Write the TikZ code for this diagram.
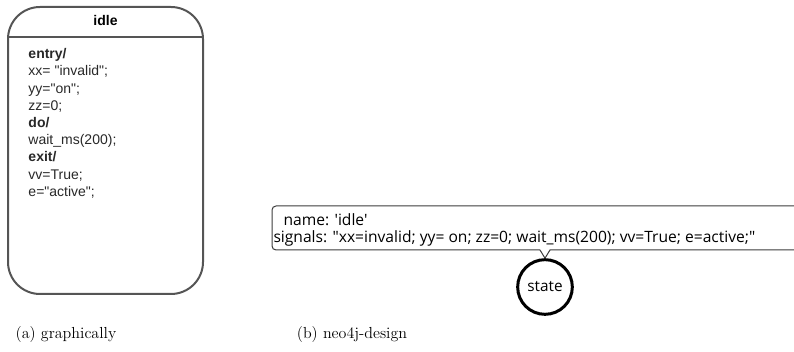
\documentclass[tikz,border=0pt]{standalone}
\usepackage{fontspec}
\newfontfamily\umlfont{Liberation Sans}
\newfontfamily\neofont{Open Sans}

\tikzset{every picture/.style={line width=0.75pt}}

\begin{document}
\begin{tikzpicture}[x=0.75pt,y=0.75pt,yscale=-1,xscale=1]
\useasboundingbox (0,0) rectangle (794,352);

%Rounded Rect: state box
\draw [color={rgb, 255:red, 85; green, 85; blue, 85 }, line width=1.5, rounded corners=24] (8,7) rectangle (203,294) ;
%Straight Lines: header
\draw [color={rgb, 255:red, 85; green, 85; blue, 85 }, line width=1.5] (8,37) -- (203,37) ;

% Text Node
\node (title) at (105.5,21) [inner sep=0.75pt, font=\umlfont\fontsize{10.5}{12.75}\selectfont] {\textbf{idle}};
% Text Node
\node (body) at (27,47) [anchor=north west, inner sep=0.75pt, align=left, color={rgb, 255:red, 40; green, 40; blue, 40 }, font=\umlfont\fontsize{10.5}{12.9}\selectfont] {\textbf{entry/}\\
xx= "invalid";\\
yy="on";\\
zz=0;\\
\textbf{do/}\\
wait\_ms(200);\\
\textbf{exit/}\\
vv=True;\\
e="active";};

% Circle: graph node
\node (st) at (545,287) [circle, draw, line width=2.25, minimum size=41pt, inner sep=0pt, font=\neofont\fontsize{11.5}{14}\selectfont] {state};

%Callout with pointer
\draw [color={rgb, 255:red, 60; green, 60; blue, 60 }, rounded corners=3] (796,206) -- (272,206) -- (272,250) -- (540,250) ;
\draw [color={rgb, 255:red, 60; green, 60; blue, 60 }] (540,250) -- (st.north) -- (550,250) -- (796,250) ;

% Text Node
\node (name) at (283,226) [anchor=base west, inner sep=0pt, font=\neofont\fontsize{11.7}{14}\selectfont] {name: 'idle'};
% Text Node
\node (signals) at (273,243) [anchor=base west, inner sep=0pt, font=\neofont\fontsize{11.7}{14}\selectfont] {signals: "xx=invalid; yy= on; zz=0; wait\_ms(200); vv=True; e=active;"};

% Captions
\node (capa) at (66,335) {\fontsize{12}{14}\selectfont (a) graphically};
\node (capb) at (352,335) {\fontsize{12}{14}\selectfont (b) neo4j-design};

\end{tikzpicture}
\end{document}
